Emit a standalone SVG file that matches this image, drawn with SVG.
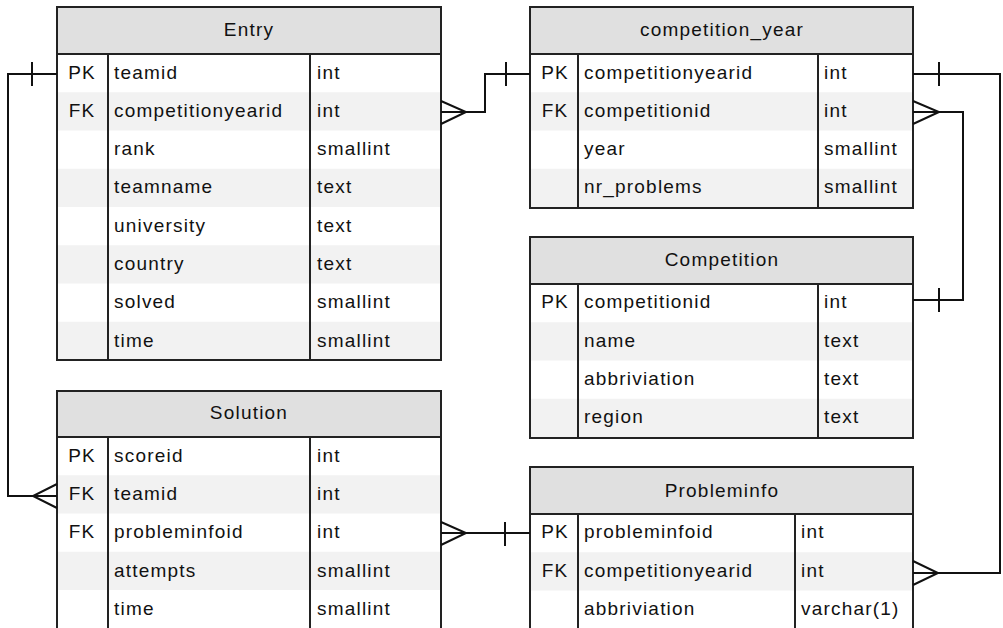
<svg xmlns="http://www.w3.org/2000/svg" width="1003" height="628" viewBox="0 0 1003 628">
<style>
.bg{fill:#ffffff}
.hd{fill:#e0e0e0}
.alt{fill:#f2f2f2}
.box{fill:none;stroke:#222;stroke-width:2}
.div{stroke:#222;stroke-width:2;fill:none}
.t{font-family:"Liberation Sans",Arial,sans-serif;font-size:19px;letter-spacing:1.2px;fill:#111}
.h{text-anchor:middle}
.k{text-anchor:middle}
.c{fill:none;stroke:#111;stroke-width:2}
</style>
<rect x="0" y="0" width="1003" height="628" fill="#ffffff"/>

<g id="entry">
<rect class="bg" x="57" y="7" width="384" height="353"/>
<rect class="hd" x="57" y="7" width="384" height="47"/>
<rect class="alt" x="58" y="92.25" width="382" height="38.25"/>
<rect class="alt" x="58" y="168.75" width="382" height="38.25"/>
<rect class="alt" x="58" y="245.25" width="382" height="38.25"/>
<rect class="alt" x="58" y="321.75" width="382" height="38.25"/>
<rect class="box" x="57" y="7" width="384" height="353"/>
<path class="div" d="M57,54H441M108,54V360M310,54V360"/>
<text class="t h" x="249" y="36">Entry</text>
<text class="t k" x="82" y="79">PK</text><text class="t" x="114" y="79">teamid</text><text class="t" x="317" y="79">int</text>
<text class="t k" x="82" y="117">FK</text><text class="t" x="114" y="117">competitionyearid</text><text class="t" x="317" y="117">int</text>
<text class="t" x="114" y="155">rank</text><text class="t" x="317" y="155">smallint</text>
<text class="t" x="114" y="193">teamname</text><text class="t" x="317" y="193">text</text>
<text class="t" x="114" y="232">university</text><text class="t" x="317" y="232">text</text>
<text class="t" x="114" y="270">country</text><text class="t" x="317" y="270">text</text>
<text class="t" x="114" y="308">solved</text><text class="t" x="317" y="308">smallint</text>
<text class="t" x="114" y="347">time</text><text class="t" x="317" y="347">smallint</text>
</g>

<g id="competition_year">
<rect class="bg" x="530" y="7" width="383" height="201"/>
<rect class="hd" x="530" y="7" width="383" height="47"/>
<rect class="alt" x="531" y="92.25" width="381" height="38.25"/>
<rect class="alt" x="531" y="168.75" width="381" height="38.25"/>
<rect class="box" x="530" y="7" width="383" height="201"/>
<path class="div" d="M530,54H913M578,54V208M818,54V208"/>
<text class="t h" x="722" y="36">competition_year</text>
<text class="t k" x="555" y="79">PK</text><text class="t" x="584" y="79">competitionyearid</text><text class="t" x="824" y="79">int</text>
<text class="t k" x="555" y="117">FK</text><text class="t" x="584" y="117">competitionid</text><text class="t" x="824" y="117">int</text>
<text class="t" x="584" y="155">year</text><text class="t" x="824" y="155">smallint</text>
<text class="t" x="584" y="193">nr_problems</text><text class="t" x="824" y="193">smallint</text>
</g>

<g id="competition">
<rect class="bg" x="530" y="237" width="383" height="201"/>
<rect class="hd" x="530" y="237" width="383" height="47"/>
<rect class="alt" x="531" y="322.25" width="381" height="38.25"/>
<rect class="alt" x="531" y="398.75" width="381" height="38.25"/>
<rect class="box" x="530" y="237" width="383" height="201"/>
<path class="div" d="M530,284H913M578,284V438M818,284V438"/>
<text class="t h" x="722" y="266">Competition</text>
<text class="t k" x="555" y="308">PK</text><text class="t" x="584" y="308">competitionid</text><text class="t" x="824" y="308">int</text>
<text class="t" x="584" y="347">name</text><text class="t" x="824" y="347">text</text>
<text class="t" x="584" y="385">abbriviation</text><text class="t" x="824" y="385">text</text>
<text class="t" x="584" y="423">region</text><text class="t" x="824" y="423">text</text>
</g>

<g id="solution">
<rect class="bg" x="57" y="391" width="384" height="250"/>
<rect class="hd" x="57" y="391" width="384" height="46"/>
<rect class="alt" x="58" y="475.25" width="382" height="38.25"/>
<rect class="alt" x="58" y="551.75" width="382" height="38.25"/>
<rect class="box" x="57" y="391" width="384" height="250"/>
<path class="div" d="M57,437H441M108,437V641M310,437V641"/>
<text class="t h" x="249" y="419">Solution</text>
<text class="t k" x="82" y="462">PK</text><text class="t" x="114" y="462">scoreid</text><text class="t" x="317" y="462">int</text>
<text class="t k" x="82" y="500">FK</text><text class="t" x="114" y="500">teamid</text><text class="t" x="317" y="500">int</text>
<text class="t k" x="82" y="538">FK</text><text class="t" x="114" y="538">probleminfoid</text><text class="t" x="317" y="538">int</text>
<text class="t" x="114" y="577">attempts</text><text class="t" x="317" y="577">smallint</text>
<text class="t" x="114" y="615">time</text><text class="t" x="317" y="615">smallint</text>
</g>

<g id="probleminfo">
<rect class="bg" x="530" y="467" width="383" height="180"/>
<rect class="hd" x="530" y="467" width="383" height="47"/>
<rect class="alt" x="531" y="552.25" width="381" height="38.25"/>
<rect class="box" x="530" y="467" width="383" height="180"/>
<path class="div" d="M530,514H913M578,514V647M795,514V647"/>
<text class="t h" x="722" y="497">Probleminfo</text>
<text class="t k" x="555" y="538">PK</text><text class="t" x="584" y="538">probleminfoid</text><text class="t" x="801" y="538">int</text>
<text class="t k" x="555" y="577">FK</text><text class="t" x="584" y="577">competitionyearid</text><text class="t" x="801" y="577">int</text>
<text class="t" x="584" y="615">abbriviation</text><text class="t" x="801" y="615">varchar(1)</text>
</g>

<g id="connectors">
<path class="c" d="M57,74H8V496H57"/>
<path class="c" d="M32,62V86"/>
<path class="c" d="M57,484L33,496L57,508"/>

<path class="c" d="M441,112H485V74H530"/>
<path class="c" d="M506,62V86"/>
<path class="c" d="M441,101L466,112L441,124"/>

<path class="c" d="M913,112H963V300H913"/>
<path class="c" d="M939,288V312"/>
<path class="c" d="M913,101L939,112L913,124"/>

<path class="c" d="M913,74H1000V573H913"/>
<path class="c" d="M939,62V86"/>
<path class="c" d="M913,561L938,573L913,585"/>

<path class="c" d="M441,533H530"/>
<path class="c" d="M505,522V546"/>
<path class="c" d="M441,522L466,533L441,545"/>
</g>
</svg>
